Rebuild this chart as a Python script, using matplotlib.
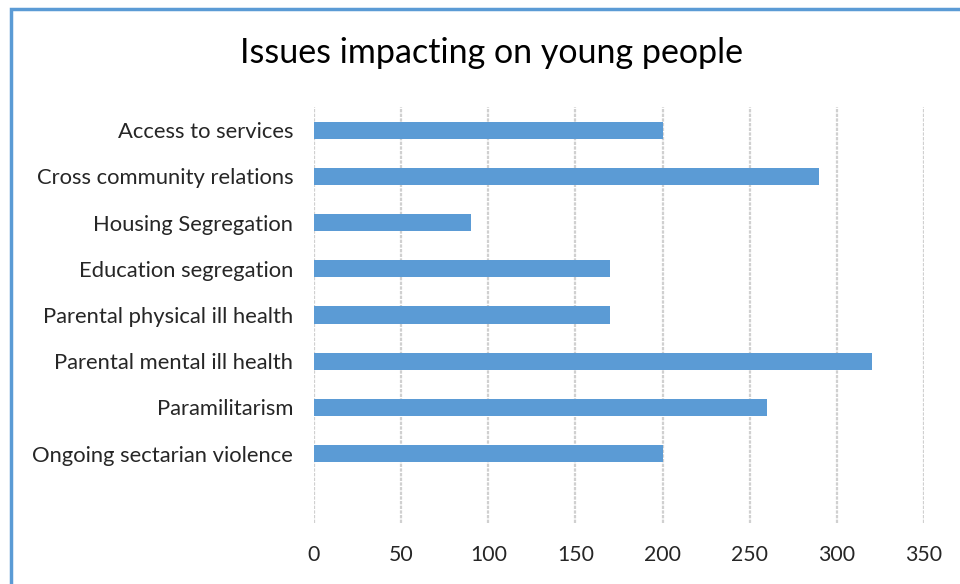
import matplotlib
matplotlib.use("Agg")
import matplotlib.pyplot as plt
from matplotlib.patches import Rectangle

categories = ["Access to services", "Cross community relations", "Housing Segregation",
              "Education segregation", "Parental physical ill health",
              "Parental mental ill health", "Paramilitarism", "Ongoing sectarian violence"]
values = [200, 290, 90, 170, 170, 320, 260, 200]
xticks = [0, 50, 100, 150, 200, 250, 300, 350]
title = "Issues impacting on young people"

plt.rcParams['font.family'] = ['Lato', 'DejaVu Sans']

fig = plt.figure(figsize=(9.6, 5.84), dpi=100)
W, H = 960, 584
ax = fig.add_axes([314/W, 1-523/H, (924-314)/W, (523-107)/H])

pos = list(range(len(categories)))
ax.barh(pos, values, height=0.37, color="#5B9BD5", zorder=3)
ax.set_ylim(8.5, -0.5)
ax.set_xlim(0, 350)
ax.set_xticks(xticks)
ax.set_xticklabels([str(t) for t in xticks], fontsize=15.3, color="#262626")
ax.set_yticks(pos)
ax.set_yticklabels(categories, fontsize=15.8, color="#262626")
ax.tick_params(axis='both', length=0)
ax.tick_params(axis='x', pad=16)
ax.tick_params(axis='y', pad=15)
for s in ax.spines.values():
    s.set_visible(False)
ax.xaxis.grid(True, color="#d0d0d0", linewidth=1.6, linestyle=(0, (1.5, 0.6)), zorder=0)
ax.set_axisbelow(True)

fig.text(492/W, 1-53/H, title, ha='center', va='center', fontsize=24.5, color="#000000")

fig.patches.append(Rectangle((11/W, -0.1), 1.2, 1-9/H+0.1, transform=fig.transFigure,
                             fill=False, edgecolor="#5B9BD5", linewidth=2.5, zorder=10))

fig.savefig("out.png", dpi=100)
